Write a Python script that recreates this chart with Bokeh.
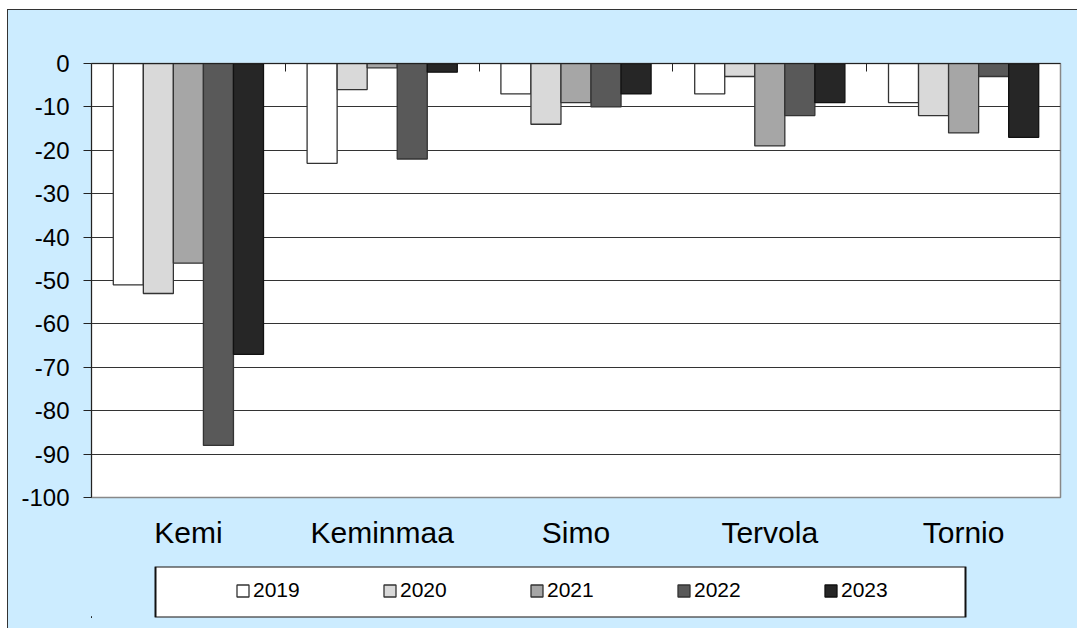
from bokeh.plotting import figure
from bokeh.models import (Range1d, FixedTicker, LinearAxis, ColumnDataSource,
                          Legend, LegendItem, BoxAnnotation)
from bokeh.transform import dodge
from bokeh.layouts import column
from bokeh.embed import file_html
from bokeh.resources import INLINE

categories = ["Kemi", "Keminmaa", "Simo", "Tervola", "Tornio"]
years = ["2019", "2020", "2021", "2022", "2023"]
v2019 = [-51, -23, -7, -7, -9]
v2020 = [-53, -6, -14, -3, -12]
v2021 = [-46, -1, -9, -19, -16]
v2022 = [-88, -22, -10, -12, -3]
v2023 = [-67, -2, -7, -9, -17]
y_ticks = list(range(-100, 1, 10))

series = [v2019, v2020, v2021, v2022, v2023]
fills = ["#FFFFFF", "#D9D9D9", "#A6A6A6", "#595959", "#262626"]
lines = ["#333333", "#333333", "#333333", "#333333", "#111111"]
BG = "#CCECFF"
FONT = "Liberation Sans"

cat_pos = [i + 0.5 for i in range(len(categories))]
data = {"x": cat_pos}
for yr, vals in zip(years, series):
    data["y" + yr] = vals
src = ColumnDataSource(data)

p = figure(width=1069, height=550, x_range=Range1d(0, len(categories)),
           y_range=Range1d(-100, 0), output_backend="svg", toolbar_location=None,
           min_border_left=83, min_border_right=17, min_border_top=53,
           min_border_bottom=63, background_fill_color="white",
           border_fill_color=BG, outline_line_color="#888888",
           outline_line_width=1.5)

bw = 0.155
for j, yr in enumerate(years):
    p.vbar(x=dodge("x", (j - 2) * bw), width=bw, top=0, bottom="y" + yr,
           source=src, fill_color=fills[j], line_color=lines[j],
           line_width=1.3)

# y axis
ya = p.yaxis[0]
ya.ticker = FixedTicker(ticks=y_ticks)
ya.major_label_overrides = {t: str(t) for t in y_ticks}
ya.major_tick_in = 0
ya.major_tick_out = 8
ya.minor_tick_line_color = None
ya.major_label_standoff = 14
ya.major_label_text_font = FONT
ya.major_label_text_font_size = "24px"
ya.major_label_text_color = "black"
ya.axis_line_color = "#222222"
ya.major_tick_line_color = "#222222"

# bottom axis: category labels only
xa = p.xaxis[0]
xa.ticker = FixedTicker(ticks=cat_pos)
xa.major_label_overrides = {pos: c for pos, c in zip(cat_pos, categories)}
xa.axis_line_color = None
xa.major_tick_line_color = None
xa.minor_tick_line_color = None
xa.major_label_standoff = 12
xa.major_label_text_font = FONT
xa.major_label_text_font_size = "30px"
xa.major_label_text_color = "black"

# top axis at zero with ticks between categories
bounds = list(range(1, len(categories)))
top = LinearAxis(ticker=FixedTicker(ticks=bounds),
                 major_label_overrides={b: "" for b in bounds},
                 major_tick_in=8, major_tick_out=0, minor_tick_line_color=None,
                 major_label_standoff=0, axis_line_color="#222222",
                 major_tick_line_color="#222222")
p.add_layout(top, "above")

p.xgrid.visible = False
p.ygrid.grid_line_color = "#333333"
p.ygrid.grid_line_width = 1

# legend strip below the chart
pl = figure(width=1069, height=68, x_range=Range1d(100, 101),
            y_range=Range1d(0, 1), x_axis_type=None, y_axis_type=None,
            output_backend="svg", toolbar_location=None, min_border_left=83,
            min_border_right=17, min_border_top=6, min_border_bottom=11,
            background_fill_color=BG, border_fill_color=BG,
            outline_line_color=None)
pl.grid.visible = False

box = BoxAnnotation(left=147, right=957, left_units="canvas",
                    right_units="canvas", top=1, bottom=0,
                    fill_color="white", fill_alpha=1.0,
                    line_color="#111111", line_alpha=1.0, line_width=2,
                    level="underlay")
pl.add_layout(box)

items = []
for j, yr in enumerate(years):
    # swatch renderers: same series, lying outside this strip's visible range
    r = pl.vbar(x="x", width=bw, top=0, bottom="y" + yr, source=src,
                fill_color=fills[j], line_color=lines[j], line_width=1.3)
    items.append(LegendItem(label=yr, renderers=[r]))
leg = Legend(items=items, orientation="horizontal", location=(144, 15),
             padding=0, margin=0, spacing=82, glyph_width=15, glyph_height=15,
             label_width=47, label_standoff=3, label_text_font=FONT,
             label_text_font_size="21px", label_text_color="black",
             border_line_color=None, background_fill_alpha=0)
pl.add_layout(leg)

layout = column(p, pl, margin=(9, 0, 0, 7), spacing=0,
                styles={"border-left": "1px solid #333333",
                        "border-top": "1px solid #333333",
                        "background-color": BG})

open("out.html", "w").write(file_html(layout, INLINE))
